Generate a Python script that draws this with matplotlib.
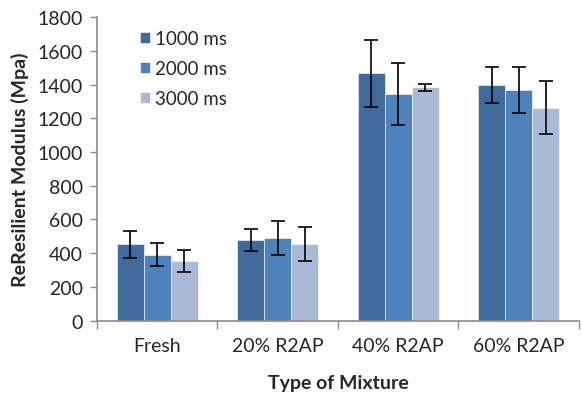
import numpy as np
import matplotlib.pyplot as plt
from matplotlib.ticker import FixedLocator

# Resilient modulus by mixture type and loading duration
mixtures = ["Fresh", "20% R2AP", "40% R2AP", "60% R2AP"]
series_labels = ["1000 ms", "2000 ms", "3000 ms"]
mod_1000 = [453, 477, 1467, 1400]
mod_2000 = [392, 492, 1346, 1368]
mod_3000 = [354, 453, 1384, 1262]
err_1000 = [80, 66, 199, 107]
err_2000 = [68, 101, 185, 135]
err_3000 = [66, 100, 20, 157]

colors = ["#416a9c", "#4f81bd", "#aabad7"]
axis_gray = "#8c8c8c"
text_color = "#262626"

plt.rcParams["font.family"] = ["Lato", "DejaVu Sans"]
plt.rcParams["text.color"] = text_color
plt.rcParams["xtick.labelcolor"] = text_color
plt.rcParams["ytick.labelcolor"] = text_color
plt.rcParams["axes.labelcolor"] = text_color

fig = plt.figure(figsize=(5.82, 4.02), dpi=100)
ax = fig.add_axes([0.1667, 0.2, 0.828, 0.7545])

x = np.arange(len(mixtures))
width = 0.224
values = [mod_1000, mod_2000, mod_3000]
errors = [err_1000, err_2000, err_3000]
for i, (vals, errs) in enumerate(zip(values, errors)):
    ax.bar(x + (i - 1) * width, vals, width, color=colors[i], label=series_labels[i],
           edgecolor="white", linewidth=0.4,
           yerr=errs, capsize=5, error_kw=dict(ecolor="black", elinewidth=1.2, capthick=1.2))

ax.set_xlim(-0.5, len(mixtures) - 0.5)
ax.set_ylim(0, 1800)
ax.set_yticks(np.arange(0, 1801, 200))
ax.set_xticks(x)
ax.set_xticklabels(mixtures, fontsize=14)
ax.xaxis.set_minor_locator(FixedLocator(np.arange(-0.5, len(mixtures), 1.0)))
ax.tick_params(axis="x", which="major", length=0, pad=12)
ax.tick_params(axis="x", which="minor", length=6, color=axis_gray, width=1)
ax.tick_params(axis="y", length=5, color=axis_gray, width=1, labelsize=14, pad=5)

for side in ["top", "right"]:
    ax.spines[side].set_visible(False)
for side in ["left", "bottom"]:
    ax.spines[side].set_color(axis_gray)
    ax.spines[side].set_linewidth(1.2)

ax.set_ylabel("ReResilient Modulus (Mpa)", fontsize=14, fontweight="bold", labelpad=6)
ax.set_xlabel("Type of Mixture", fontsize=14, fontweight="bold", labelpad=14)

ax.legend(loc="upper left", bbox_to_anchor=(0.065, 0.995), frameon=False, fontsize=13.5,
          handlelength=0.55, handleheight=0.55, handletextpad=0.25, labelspacing=0.7,
          borderaxespad=0.2)

fig.savefig("out.png", dpi=100)
